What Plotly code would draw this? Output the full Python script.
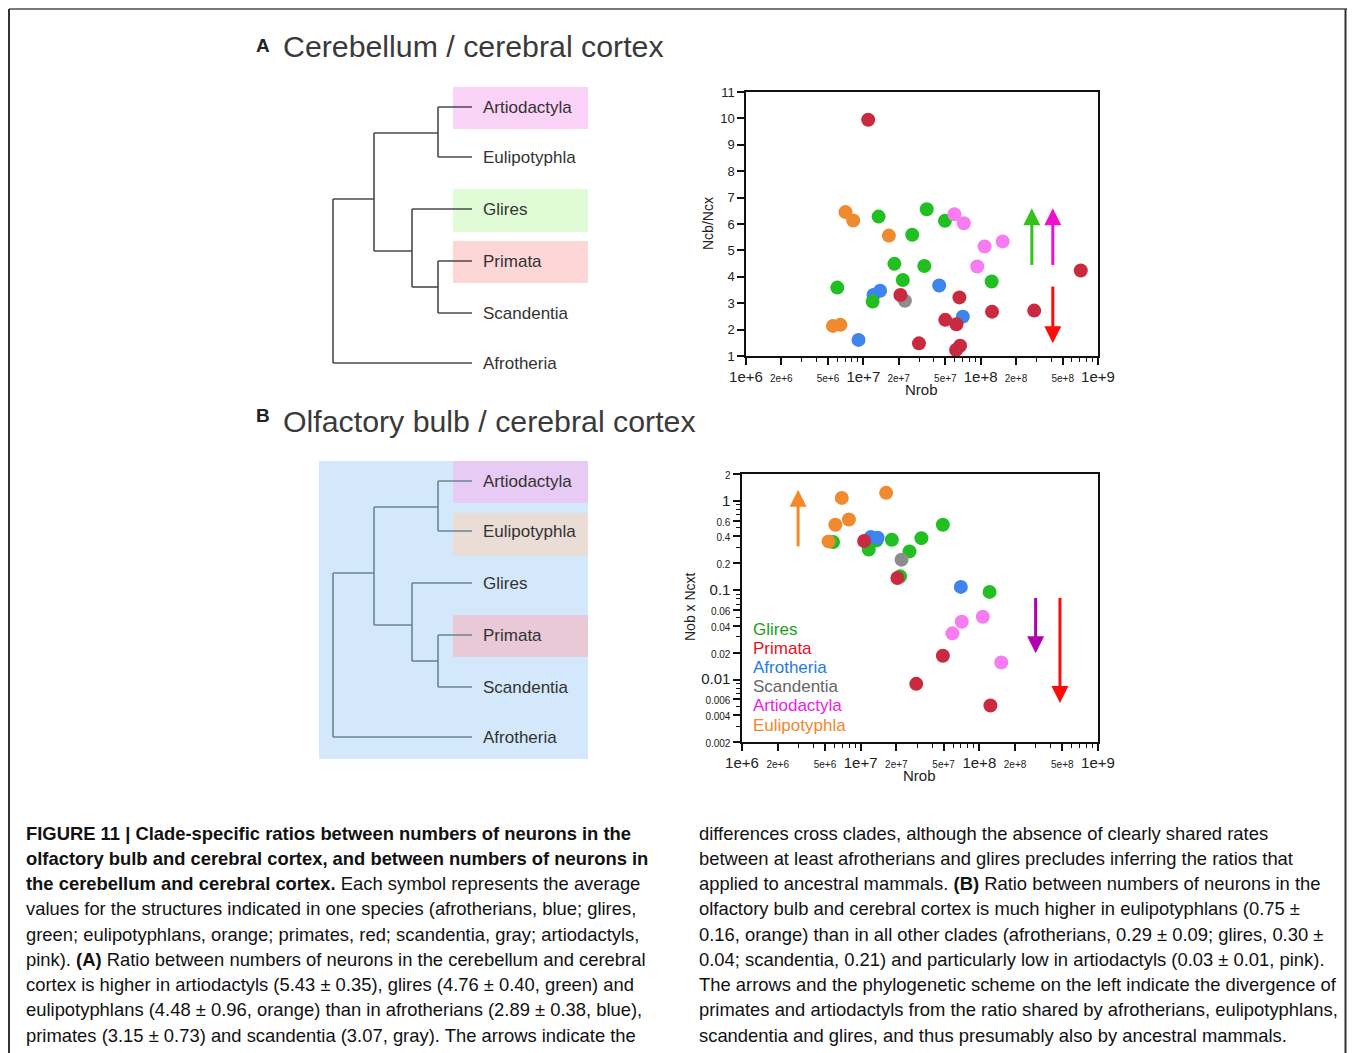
import math
import plotly.graph_objects as go

# ---------------- data ----------------
clade_colors = {"Glires": "#22bf22", "Primata": "#c92a40", "Afrotheria": "#3d84ec",
                "Scandentia": "#8d8d8d", "Artiodactyla": "#f77cf2", "Eulipotyphla": "#ef8a2e"}
legend_colors = {"Glires": "#1a9e1a", "Primata": "#e8121e", "Afrotheria": "#1f7be6",
                 "Scandentia": "#666666", "Artiodactyla": "#f020e4", "Eulipotyphla": "#f0882a"}

# Panel A: Nrob vs Ncb/Ncx
cb_afrotheria_x = [9.1e6, 1.22e7, 1.39e7, 4.43e7, 7.05e7]
cb_afrotheria_y = [1.61, 3.31, 3.47, 3.67, 2.49]
cb_glires_x = [6.0e6, 1.20e7, 1.35e7, 1.84e7, 2.17e7, 2.61e7, 3.31e7, 3.47e7, 4.96e7, 1.24e8]
cb_glires_y = [3.59, 3.06, 6.28, 4.49, 3.88, 5.59, 4.41, 6.56, 6.12, 3.82]
cb_scandentia_x = [2.26e7]
cb_scandentia_y = [3.09]
cb_primata_x = [1.10e7, 2.07e7, 2.98e7, 4.99e7, 6.21e7, 6.59e7, 6.17e7, 6.68e7, 1.25e8, 2.86e8, 7.13e8]
cb_primata_y = [9.95, 3.31, 1.48, 2.37, 2.20, 3.22, 1.23, 1.39, 2.68, 2.72, 4.24]
cb_eulipotyphla_x = [5.51e6, 6.38e6, 7.05e6, 8.2e6, 1.65e7]
cb_eulipotyphla_y = [2.14, 2.18, 6.45, 6.13, 5.56]
cb_artiodactyla_x = [5.97e7, 7.18e7, 9.35e7, 1.08e8, 1.54e8]
cb_artiodactyla_y = [6.37, 6.03, 4.39, 5.15, 5.34]

# Panel B: Nrob vs Nob x Ncxt
ob_glires_x = [5.85e6, 1.17e7, 1.36e7, 1.83e7, 2.15e7, 2.58e7, 3.25e7, 4.93e7, 1.22e8]
ob_glires_y = [0.346, 0.286, 0.361, 0.367, 0.143, 0.272, 0.383, 0.540, 0.0958]
ob_afrotheria_x = [1.22e7, 1.39e7, 6.98e7]
ob_afrotheria_y = [0.394, 0.387, 0.109]
ob_scandentia_x = [2.21e7]
ob_scandentia_y = [0.220]
ob_artiodactyla_x = [5.93e7, 7.11e7, 1.07e8, 1.53e8]
ob_artiodactyla_y = [0.0329, 0.0443, 0.0504, 0.0155]
ob_primata_x = [1.07e7, 2.04e7, 2.94e7, 4.93e7, 1.24e8]
ob_primata_y = [0.355, 0.137, 0.00895, 0.0185, 0.00513]
ob_eulipotyphla_x = [5.37e6, 6.12e6, 6.93e6, 7.96e6, 1.64e7]
ob_eulipotyphla_y = [0.352, 0.540, 1.08, 0.619, 1.23]

# arrows: x, start, tip, colour
cb_arrow_x = [2.73e8, 4.12e8, 4.12e8]
cb_arrow_y0 = [4.45, 4.45, 3.63]
cb_arrow_y1 = [6.60, 6.60, 1.48]
cb_arrow_colors = ["#33c21a", "#ee10cc", "#ff0a0a"]
ob_arrow_x = [2.97e6, 2.98e8, 4.78e8]
ob_arrow_y0 = [0.31, 0.082, 0.082]
ob_arrow_y1 = [1.33, 0.0197, 0.00545]
ob_arrow_colors = ["#f5892a", "#b000b0", "#ff0a0a"]

# tick labels
x_tickvals = [1e6, 2e6, 5e6, 1e7, 2e7, 5e7, 1e8, 2e8, 5e8, 1e9]
x_ticklabels = ["1e+6", "2e+6", "5e+6", "1e+7", "2e+7", "5e+7", "1e+8", "2e+8", "5e+8", "1e+9"]
x_minor = [m * 10 ** k for k in (6, 7, 8) for m in (3, 4, 6, 7, 8, 9)]
cb_y_tickvals = list(range(1, 12))
ob_y_tickvals = [2, 1, 0.6, 0.4, 0.2, 0.1, 0.06, 0.04, 0.02, 0.01, 0.006, 0.004, 0.002]
ob_y_ticklabels = ["2", "1", "0.6", "0.4", "0.2", "0.1", "0.06", "0.04", "0.02", "0.01", "0.006", "0.004", "0.002"]
ob_y_minor = [m * 10 ** k for k in (-3, -2, -1) for m in (3, 5, 7, 8, 9)]

tree_leaves = ["Artiodactyla", "Eulipotyphla", "Glires", "Primata", "Scandentia", "Afrotheria"]

caption_left = [
    "<b>FIGURE 11 | Clade-specific ratios between numbers of neurons in the</b>",
    "<b>olfactory bulb and cerebral cortex, and between numbers of neurons in</b>",
    "<b>the cerebellum and cerebral cortex.</b> Each symbol represents the average",
    "values for the structures indicated in one species (afrotherians, blue; glires,",
    "green; eulipotyphlans, orange; primates, red; scandentia, gray; artiodactyls,",
    "pink). <b>(A)</b> Ratio between numbers of neurons in the cerebellum and cerebral",
    "cortex is higher in artiodactyls (5.43 \u00b1 0.35), glires (4.76 \u00b1 0.40, green) and",
    "eulipotyphlans (4.48 \u00b1 0.96, orange) than in afrotherians (2.89 \u00b1 0.38, blue),",
    "primates (3.15 \u00b1 0.73) and scandentia (3.07, gray). The arrows indicate the",
]
caption_right = [
    "differences cross clades, although the absence of clearly shared rates",
    "between at least afrotherians and glires precludes inferring the ratios that",
    "applied to ancestral mammals. <b>(B)</b> Ratio between numbers of neurons in the",
    "olfactory bulb and cerebral cortex is much higher in eulipotyphlans (0.75 \u00b1",
    "0.16, orange) than in all other clades (afrotherians, 0.29 \u00b1 0.09; glires, 0.30 \u00b1",
    "0.04; scandentia, 0.21) and particularly low in artiodactyls (0.03 \u00b1 0.01, pink).",
    "The arrows and the phylogenetic scheme on the left indicate the divergence of",
    "primates and artiodactyls from the ratio shared by afrotherians, eulipotyphlans,",
    "scandentia and glires, and thus presumably also by ancestral mammals.",
]

# ---------------- layout helpers ----------------
# the page body has an 8px margin, so page coordinates = figure coordinates + 8
OFF = 8
W, H = 1355, 1053
FONT = "Liberation Sans, Arial, sans-serif"


def PX(x):
    return (x - OFF) / W


def PY(y):
    return 1 - (y - OFF) / H


def span(t, size):
    return f'<span style="font-size:{size}px">{t}</span>'


fig = go.Figure()

cb_data = {
    "Afrotheria": (cb_afrotheria_x, cb_afrotheria_y),
    "Glires": (cb_glires_x, cb_glires_y),
    "Scandentia": (cb_scandentia_x, cb_scandentia_y),
    "Primata": (cb_primata_x, cb_primata_y),
    "Eulipotyphla": (cb_eulipotyphla_x, cb_eulipotyphla_y),
    "Artiodactyla": (cb_artiodactyla_x, cb_artiodactyla_y),
}
ob_data = {
    "Glires": (ob_glires_x, ob_glires_y),
    "Afrotheria": (ob_afrotheria_x, ob_afrotheria_y),
    "Scandentia": (ob_scandentia_x, ob_scandentia_y),
    "Artiodactyla": (ob_artiodactyla_x, ob_artiodactyla_y),
    "Primata": (ob_primata_x, ob_primata_y),
    "Eulipotyphla": (ob_eulipotyphla_x, ob_eulipotyphla_y),
}

MS = 14
for name, (xs, ys) in cb_data.items():
    fig.add_trace(go.Scatter(x=xs, y=ys, mode="markers", xaxis="x", yaxis="y", cliponaxis=False,
                             marker=dict(size=MS, color=clade_colors[name], line=dict(width=0)),
                             showlegend=False, name=name))
for name, (xs, ys) in ob_data.items():
    fig.add_trace(go.Scatter(x=xs, y=ys, mode="markers", xaxis="x2", yaxis="y2", cliponaxis=False,
                             marker=dict(size=MS, color=clade_colors[name], line=dict(width=0)),
                             showlegend=False, name=name))

# arrows
HEAD = 17
cb_px_per_unit = (356 - 92) / 10.0
ob_px_per_dec = (742 - 474) / 3.0
for x, y0, y1, c in zip(cb_arrow_x, cb_arrow_y0, cb_arrow_y1, cb_arrow_colors):
    up = y1 > y0
    yend = y1 - (1 if up else -1) * (HEAD * 0.6) / cb_px_per_unit
    fig.add_trace(go.Scatter(x=[x, x], y=[y0, yend], mode="lines", xaxis="x", yaxis="y",
                             line=dict(color=c, width=3), showlegend=False, hoverinfo="skip"))
    fig.add_trace(go.Scatter(x=[x], y=[y1], mode="markers", xaxis="x", yaxis="y", cliponaxis=False,
                             marker=dict(symbol="arrow-up" if up else "arrow-down", size=HEAD, color=c,
                                         line=dict(width=0)),
                             showlegend=False, hoverinfo="skip"))
for x, y0, y1, c in zip(ob_arrow_x, ob_arrow_y0, ob_arrow_y1, ob_arrow_colors):
    up = y1 > y0
    yend = 10 ** (math.log10(y1) - (1 if up else -1) * (HEAD * 0.6) / ob_px_per_dec)
    fig.add_trace(go.Scatter(x=[x, x], y=[y0, yend], mode="lines", xaxis="x2", yaxis="y2",
                             line=dict(color=c, width=3), showlegend=False, hoverinfo="skip"))
    fig.add_trace(go.Scatter(x=[x], y=[y1], mode="markers", xaxis="x2", yaxis="y2", cliponaxis=False,
                             marker=dict(symbol="arrow-up" if up else "arrow-down", size=HEAD, color=c,
                                         line=dict(width=0)),
                             showlegend=False, hoverinfo="skip"))

x_ticktext = [span(t, 15) if t.startswith("1e") else span(t, 10) for t in x_ticklabels]
ob_y_ticktext = [span(t, 15) if t in ("1", "0.1", "0.01") else span(t, 10) for t in ob_y_ticklabels]

axis_common = dict(showline=True, linecolor="#111", linewidth=1.5, mirror=True, ticks="outside",
                   ticklen=7, tickwidth=1.5, tickcolor="#111", showgrid=False, zeroline=False,
                   automargin=False, tickfont=dict(family=FONT, size=14, color="#222"))
minor_common = dict(ticks="outside", ticklen=4, tickwidth=1.2, tickcolor="#111", showgrid=False)

fig.update_layout(
    width=W, height=H, autosize=False,
    margin=dict(l=0, r=0, t=0, b=0, pad=0, autoexpand=False),
    paper_bgcolor="white", plot_bgcolor="rgba(0,0,0,0)", showlegend=False,
    font=dict(family=FONT, color="#222"),
    xaxis=dict(axis_common, domain=[PX(746), PX(1098)], anchor="y", type="log", range=[6, 9],
               tickmode="array", tickvals=x_tickvals, ticktext=x_ticktext,
               minor=dict(minor_common, tickmode="array", tickvals=x_minor)),
    yaxis=dict(axis_common, domain=[PY(356), PY(92)], anchor="x", range=[1, 11],
               tickmode="array", tickvals=cb_y_tickvals, tickfont=dict(family=FONT, size=13, color="#222")),
    xaxis2=dict(axis_common, domain=[PX(742), PX(1098)], anchor="y2", type="log", range=[6, 9],
                tickmode="array", tickvals=x_tickvals, ticktext=x_ticktext,
                minor=dict(minor_common, tickmode="array", tickvals=x_minor)),
    yaxis2=dict(axis_common, domain=[PY(742), PY(474)], anchor="x2", type="log",
                range=[math.log10(0.002), math.log10(2)],
                tickmode="array", tickvals=ob_y_tickvals, ticktext=ob_y_ticktext,
                minor=dict(minor_common, tickmode="array", tickvals=ob_y_minor)),
)

shapes = []
annotations = []


def hline(x0, x1, y, color):
    shapes.append(dict(type="line", xref="paper", yref="paper", x0=PX(x0), x1=PX(x1), y0=PY(y), y1=PY(y),
                       line=dict(color=color, width=1.6)))


def vline(x, y0, y1, color):
    shapes.append(dict(type="line", xref="paper", yref="paper", x0=PX(x), x1=PX(x), y0=PY(y0), y1=PY(y1),
                       line=dict(color=color, width=1.6)))


def rect(x0, x1, y0, y1, color):
    shapes.append(dict(type="rect", xref="paper", yref="paper", x0=PX(x0), x1=PX(x1), y0=PY(y1), y1=PY(y0),
                       line=dict(width=0), fillcolor=color, layer="below"))


def text(x, y, s, size, color="#333", xanchor="left", angle=0, yanchor="middle"):
    annotations.append(dict(xref="paper", yref="paper", x=PX(x), y=PY(y), text=s, showarrow=False,
                            xanchor=xanchor, yanchor=yanchor, textangle=angle,
                            font=dict(family=FONT, size=size, color=color)))


# outer frame (the right edge is kept inside the visible page area)
shapes.append(dict(type="line", xref="paper", yref="paper", x0=PX(9), x1=PX(1347), y0=PY(9), y1=PY(9),
                   line=dict(color="#7a7a7a", width=2)))
shapes.append(dict(type="line", xref="paper", yref="paper", x0=PX(9), x1=PX(9), y0=PY(9), y1=PY(1062),
                   line=dict(color="#333", width=2)))
shapes.append(dict(type="line", xref="paper", yref="paper", x0=PX(1345.5), x1=PX(1345.5), y0=PY(9),
                   y1=PY(1062), line=dict(color="#333", width=2)))


def draw_tree(dy, color, label_rows):
    rows = [r + dy for r in label_rows]
    a, e, g, p, s, f = rows
    leaf_end = 472
    hline(438, leaf_end, a, color)
    hline(438, leaf_end, e, color)
    hline(412, leaf_end, g, color)
    hline(438, leaf_end, p, color)
    hline(438, leaf_end, s, color)
    hline(333, leaf_end, f, color)
    vline(438, a, e, color)
    n1 = 133 + dy
    hline(374, 438, n1, color)
    vline(438, p, s, color)
    n2 = 287 + dy
    hline(412, 438, n2, color)
    vline(412, g, n2, color)
    n3 = 251 + dy
    hline(374, 412, n3, color)
    vline(374, n1, n3, color)
    n4 = 199 + dy
    hline(333, 374, n4, color)
    vline(333, n4, f, color)
    for name, r in zip(tree_leaves, rows):
        text(481, r, name, 17, "#333")


rows_a = [107, 157, 209, 261, 313, 363]

# Panel A highlights
rect(453, 588, 87, 129, "#fbd3f8")
rect(453, 588, 189, 232, "#dffcd6")
rect(453, 588, 241, 283, "#fdd6d6")
draw_tree(0, "#4a4a4a", rows_a)

# Panel B highlights
rect(319, 588, 461, 759, "#d3e9fb")
rect(453, 588, 461, 503, "#e8cbf4")
rect(453, 588, 513, 556, "#e9ddd6")
rect(453, 588, 615, 657, "#e8c9d5")
draw_tree(374, "#6b8494", rows_a)

# titles
text(254, 45, "<b>A</b>", 19, "#222")
text(281, 46, "Cerebellum / cerebral cortex", 30.3, "#3a3a3a")
text(254, 415, "<b>B</b>", 19, "#222")
text(281, 422, "Olfactory bulb / cerebral cortex", 30.3, "#3a3a3a")

# axis titles
text(708, 224, "Ncb/Ncx", 14, "#222", xanchor="center", angle=-90)
text(921, 390, "Nrob", 15, "#222", xanchor="center")
text(690, 606, "Nob x Ncxt", 14, "#222", xanchor="center", angle=-90)
text(919, 775, "Nrob", 15, "#222", xanchor="center")

# legend (coloured text)
legend_order = ["Glires", "Primata", "Afrotheria", "Scandentia", "Artiodactyla", "Eulipotyphla"]
for i, name in enumerate(legend_order):
    text(751, 629 + i * 19.2, name, 17, legend_colors[name])

# caption
for i, line in enumerate(caption_left):
    text(24, 833 + i * 25.25, line, 18.4, "#111")
for i, line in enumerate(caption_right):
    text(697, 833 + i * 25.25, line, 18.4, "#111")

fig.update_layout(shapes=shapes, annotations=annotations)
fig.write_html("out.html")
